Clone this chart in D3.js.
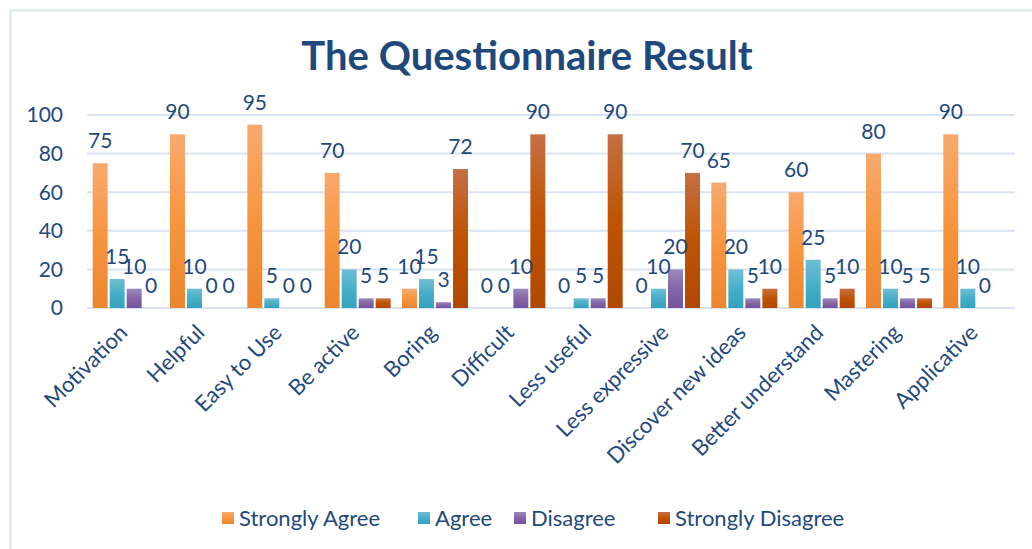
<!DOCTYPE html>
<html>
<head>
<meta charset="utf-8">
<script src="https://cdn.jsdelivr.net/npm/d3@7"></script>
<style>
  body { margin: 0; background: #fff; }
  text { font-family: Lato, 'Open Sans', sans-serif; fill: #1f497d; }
</style>
</head>
<body>
<script>
var categories = ['Motivation', 'Helpful', 'Easy to Use', 'Be active', 'Boring', 'Difficult',
  'Less useful', 'Less expressive', 'Discover new ideas', 'Better understand', 'Mastering', 'Applicative'];
var seriesNames = ['Strongly Agree', 'Agree', 'Disagree', 'Strongly Disagree'];
var stronglyAgree = [75, 90, 95, 70, 10, 0, 0, 0, 65, 60, 80, 90];
var agree = [15, 10, 5, 20, 15, 0, 5, 10, 20, 25, 10, 10];
var disagree = [10, 0, 0, 5, 3, 10, 5, 20, 5, 5, 5, 0];
var stronglyDisagree = [0, 0, 0, 5, 72, 90, 90, 70, 10, 10, 5, null];
var yTicks = [0, 20, 40, 60, 80, 100];

var seriesValues = [stronglyAgree, agree, disagree, stronglyDisagree];
var gradients = [
  ['#f9a96e', '#f7963f', '#ea862f'],
  ['#6fbed3', '#48afca', '#34a1be'],
  ['#9c88ba', '#8466a8', '#75539e'],
  ['#c46f45', '#c05300', '#b04800']
];

var svg = d3.select('body').append('svg').attr('width', 1032).attr('height', 549);

var defs = svg.append('defs');
gradients.forEach(function (c, i) {
  var lg = defs.append('linearGradient').attr('id', 'g' + i)
    .attr('x1', 0).attr('y1', 0).attr('x2', 0).attr('y2', 1);
  lg.append('stop').attr('offset', '0%').attr('stop-color', c[0]);
  lg.append('stop').attr('offset', '50%').attr('stop-color', c[1]);
  lg.append('stop').attr('offset', '100%').attr('stop-color', c[2]);
});

// chart frame
svg.append('rect')
  .attr('x', 10.5).attr('y', 10.5).attr('width', 1040).attr('height', 560)
  .attr('fill', 'none').attr('stroke', '#d9e3f2').attr('stroke-width', 2);

svg.append('text')
  .attr('x', 527).attr('y', 70)
  .attr('text-anchor', 'middle')
  .attr('font-size', '40px')
  .attr('font-weight', 'bold')
  .text('The Questionnaire Result');

var plotLeft = 87, plotRight = 1015, plotTop = 115, plotBottom = 308;

var x0 = d3.scaleBand().domain(categories).range([plotLeft, plotRight]).padding(0);
var x1 = d3.scaleBand().domain(seriesNames).range([0, 66]).paddingInner(0.12);
var y = d3.scaleLinear().domain([0, 100]).range([plotBottom, plotTop]);

var g = svg.append('g');

// gridlines
g.selectAll('line.grid')
  .data(yTicks)
  .enter()
  .append('line')
  .attr('x1', plotLeft).attr('x2', plotRight)
  .attr('y1', function (d) { return y(d); })
  .attr('y2', function (d) { return y(d); })
  .attr('stroke', '#d9e3f2')
  .attr('stroke-width', 2);

// y labels
g.selectAll('text.ytick')
  .data(yTicks)
  .enter()
  .append('text')
  .attr('x', 63)
  .attr('y', function (d) { return y(d); })
  .attr('dy', '0.35em')
  .attr('text-anchor', 'end')
  .attr('font-size', '21px')
  .text(function (d) { return d; });

var groupOffset = (x0.bandwidth() - 66) / 2;

var rows = [];
categories.forEach(function (c, ci) {
  seriesNames.forEach(function (s, si) {
    rows.push({ cat: c, series: s, si: si, value: seriesValues[si][ci] });
  });
});
var present = rows.filter(function (d) { return d.value !== null; });

g.selectAll('rect.bar')
  .data(present.filter(function (d) { return d.value > 0; }))
  .enter()
  .append('rect')
  .attr('x', function (d) { return x0(d.cat) + groupOffset + x1(d.series); })
  .attr('y', function (d) { return y(d.value); })
  .attr('width', x1.bandwidth())
  .attr('height', function (d) { return plotBottom - y(d.value); })
  .attr('fill', function (d) { return 'url(#g' + d.si + ')'; });

g.selectAll('text.val')
  .data(present)
  .enter()
  .append('text')
  .attr('x', function (d) { return x0(d.cat) + groupOffset + x1(d.series) + x1.bandwidth() / 2; })
  .attr('y', function (d) { return y(d.value) - 15; })
  .attr('text-anchor', 'middle')
  .attr('font-size', '21px')
  .text(function (d) { return d.value; });

// category labels
g.selectAll('text.xlab')
  .data(categories)
  .enter()
  .append('text')
  .attr('transform', function (d) {
    return 'translate(' + (x0(d) + x0.bandwidth() / 2 + 3) + ',' + 334 + ') rotate(-45)';
  })
  .attr('text-anchor', 'end')
  .attr('font-size', '22px')
  .text(function (d) { return d; });

// legend
var legendX = [222, 418, 514, 658];
var legend = svg.selectAll('g.legend')
  .data(seriesNames)
  .enter()
  .append('g')
  .attr('transform', function (d, i) { return 'translate(' + legendX[i] + ',512)'; });
legend.append('rect')
  .attr('width', 12).attr('height', 12)
  .attr('fill', function (d, i) { return 'url(#g' + i + ')'; });
legend.append('text')
  .attr('x', 17).attr('y', 6).attr('dy', '0.35em')
  .attr('font-size', '22px')
  .text(function (d) { return d; });
</script>
</body>
</html>
